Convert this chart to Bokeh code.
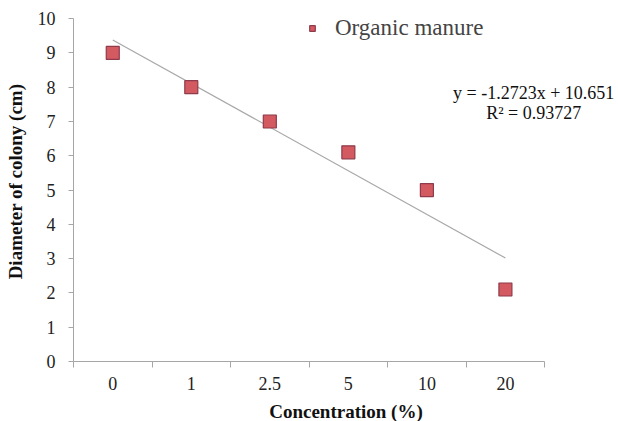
from bokeh.plotting import figure
from bokeh.models import FixedTicker, Range1d, Legend, LegendItem, Label
from bokeh.embed import file_html
from bokeh.resources import INLINE

categories = ["0", "1", "2.5", "5", "10", "20"]
diameter = [9.0, 8.0, 7.0, 6.1, 5.0, 2.1]
slope = -1.2723
intercept = 10.651
r2 = 0.93727
series_name = "Organic manure"
y_ticks = list(range(0, 11))

xs = list(range(1, len(categories) + 1))
trend_x = [xs[0], xs[-1]]
trend_y = [slope * v + intercept for v in trend_x]

p = figure(output_backend="svg", toolbar_location=None,
           frame_width=545, frame_height=360,
           min_border_left=73, min_border_top=1, min_border_right=0, min_border_bottom=56,
           x_range=Range1d(0.5, 7.44), y_range=Range1d(0, 10.5))
p.outline_line_color = None
p.xgrid.visible = False
p.ygrid.visible = False
p.background_fill_color = "white"
p.border_fill_color = "white"

serif = "Liberation Serif"
axis_col = "#a6a6a6"

# x axis
p.xaxis.bounds = (0.5, len(categories) + 0.5)
p.xaxis.ticker = FixedTicker(ticks=xs, minor_ticks=[0.5 + i for i in range(len(categories) + 1)])
p.xaxis.major_label_overrides = {i + 1: c for i, c in enumerate(categories)}
p.xaxis.major_tick_line_color = None
p.xaxis.minor_tick_line_color = axis_col
p.xaxis.minor_tick_out = 6
p.xaxis.minor_tick_in = 0
p.xaxis.axis_line_color = axis_col
p.xaxis.major_label_standoff = 9
p.xaxis.axis_label = "Concentration (%)"
p.xaxis.axis_label_standoff = 8

# y axis
p.yaxis.bounds = (0, 10)
p.yaxis.ticker = FixedTicker(ticks=y_ticks)
p.yaxis.minor_tick_line_color = None
p.yaxis.major_tick_line_color = axis_col
p.yaxis.major_tick_out = 5
p.yaxis.major_tick_in = 0
p.yaxis.axis_line_color = axis_col
p.yaxis.major_label_standoff = 13
p.yaxis.axis_label = "Diameter of colony (cm)"
p.yaxis.axis_label_standoff = 9

for ax in (p.xaxis, p.yaxis):
    ax.major_label_text_font = serif
    ax.major_label_text_font_size = "18px"
    ax.major_label_text_color = "#222222"
    ax.axis_label_text_font = serif
    ax.axis_label_text_font_size = "19px"
    ax.axis_label_text_font_style = "bold"
    ax.axis_label_text_color = "#111111"

# trendline
p.line(trend_x, trend_y, line_color="#a8a8a8", line_width=1.2)

# points
r = p.scatter(xs, diameter, marker="square", size=13,
              fill_color="#d35a60", line_color="#8e3b4b", line_width=1.2)

legend = Legend(items=[LegendItem(label=series_name, renderers=[r])],
                location=(232, 319), border_line_color=None,
                background_fill_alpha=0,
                label_text_font=serif, label_text_font_size="23px",
                label_standoff=16, glyph_width=14, glyph_height=28,
                padding=0, margin=0)
p.add_layout(legend, "center")

p.add_layout(Label(x=6.36, y=7.84, text=f"y = {slope}x + {intercept}",
                   text_align="center", text_baseline="middle",
                   text_font=serif, text_font_size="18px", text_color="#111111"))
p.add_layout(Label(x=6.36, y=7.26, text=f"R² = {r2}",
                   text_align="center", text_baseline="middle",
                   text_font=serif, text_font_size="18px", text_color="#111111"))

open("out.html", "w").write(file_html(p, INLINE))
